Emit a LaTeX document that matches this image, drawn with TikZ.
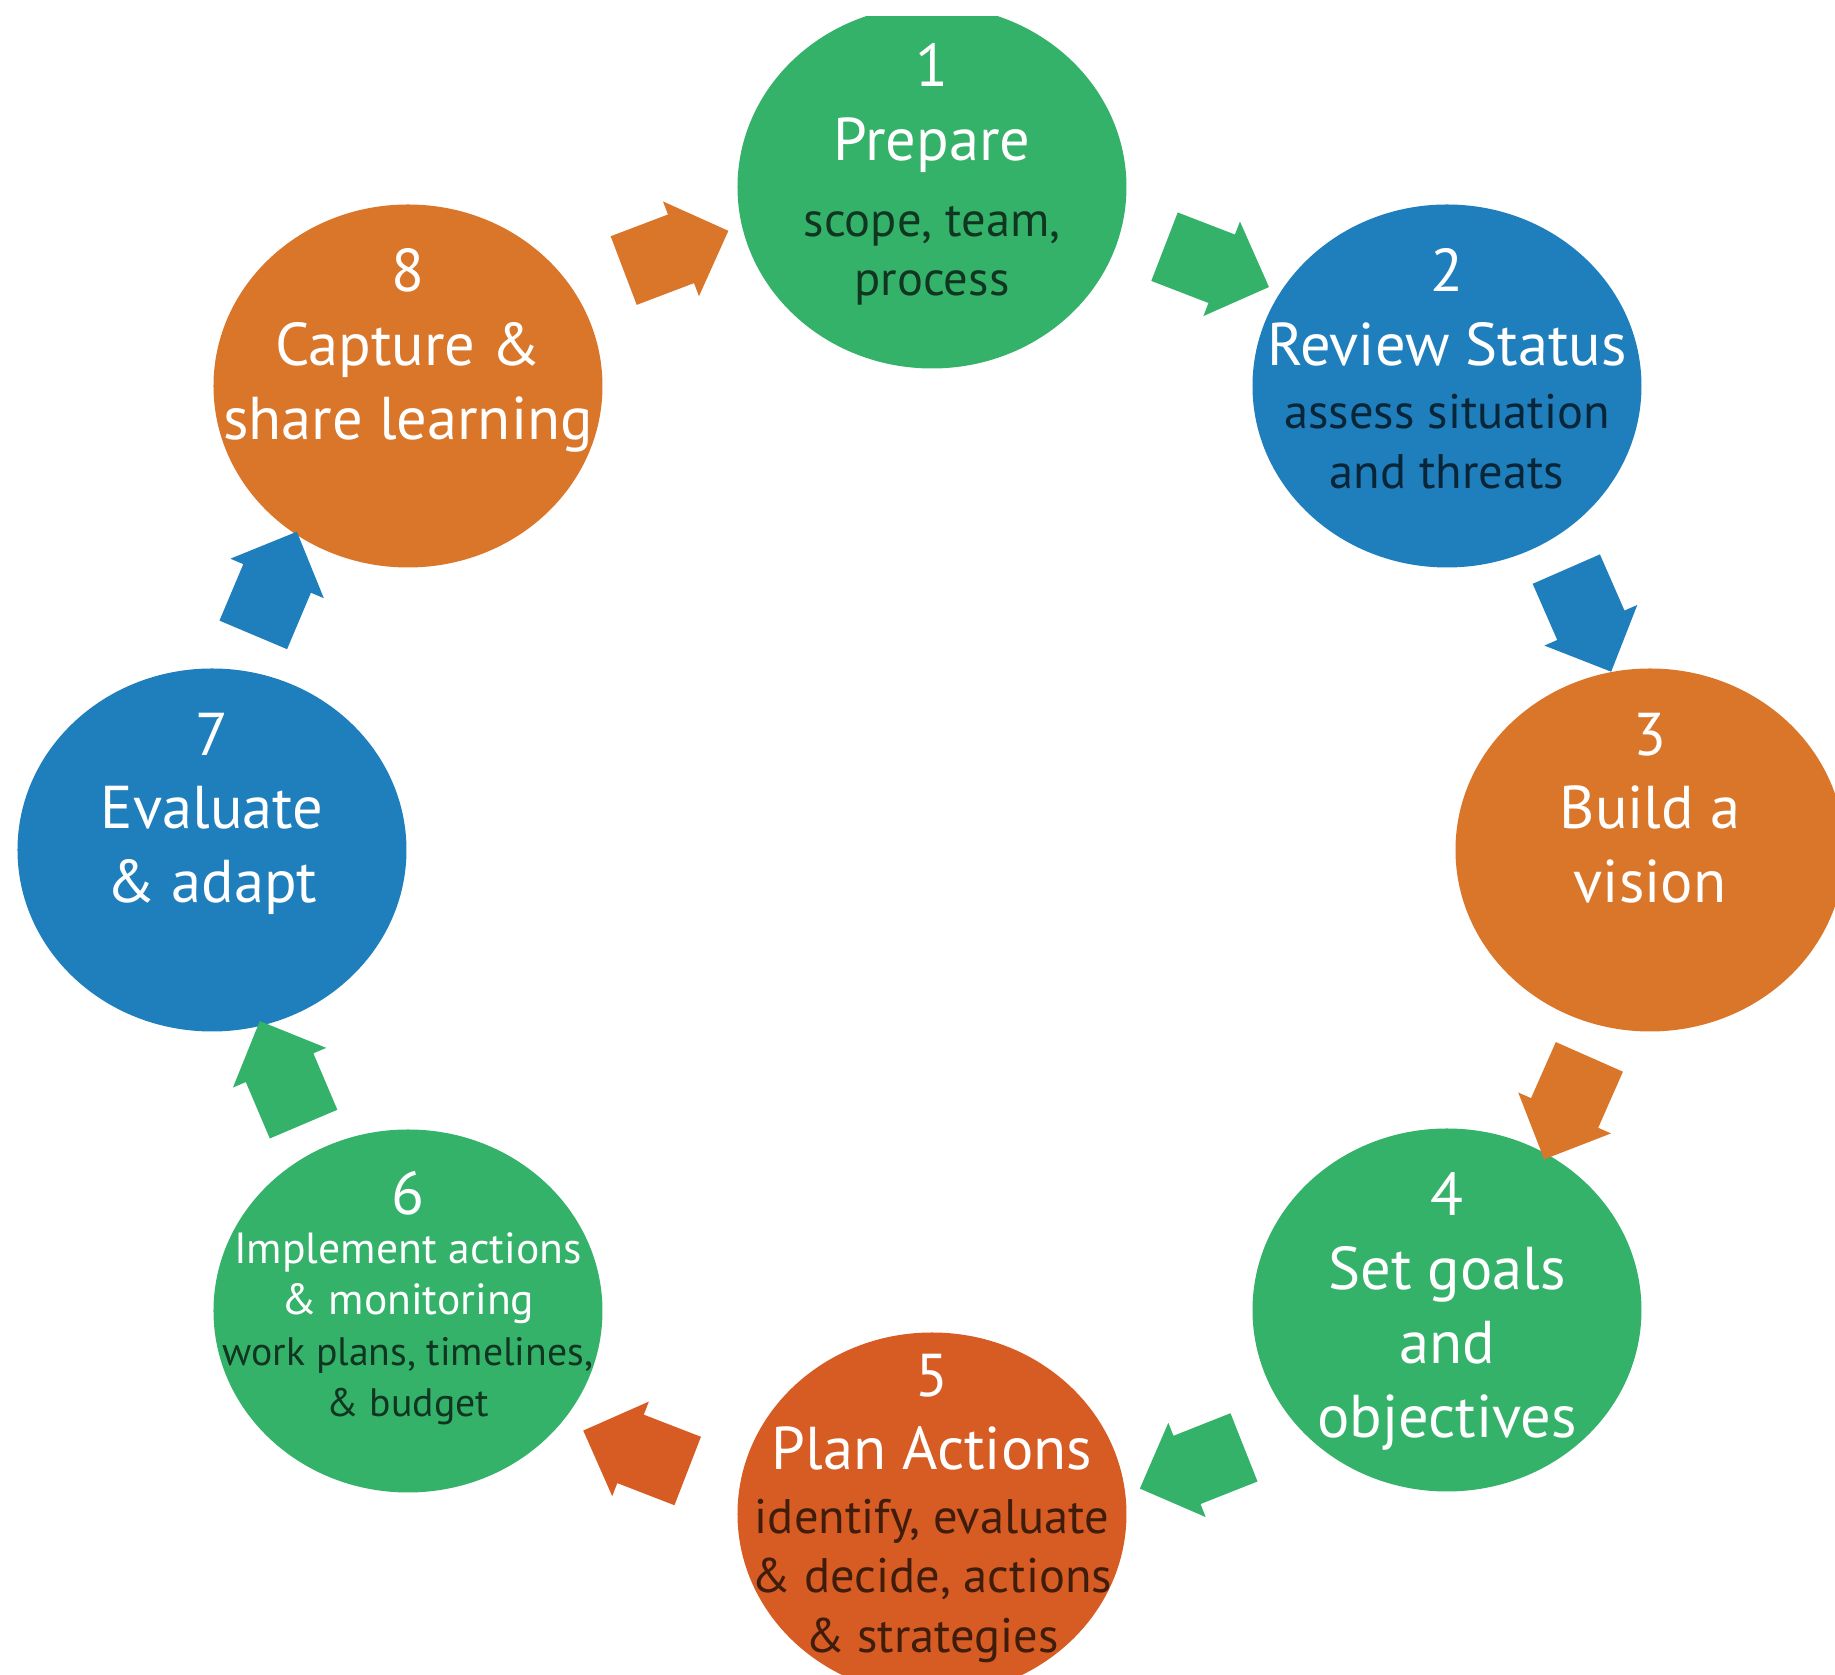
\documentclass[tikz,border=0pt]{standalone}
\usepackage{fontspec}
\setmainfont{PT Sans}
\usetikzlibrary{shapes.geometric,shapes.arrows}
\definecolor{stgreen}{HTML}{35B26A}
\definecolor{stblue}{HTML}{1F7EBC}
\definecolor{storange}{HTML}{D9762A}
\definecolor{stred}{HTML}{D65C24}
\colorlet{notecol}{black}
\newcommand{\stepnote}[1]{{\fontsize{13.8}{21}\selectfont\color{notecol}#1}}
\newcommand{\stepsmall}[1]{{\fontsize{12.4}{21}\selectfont #1}}
\newcommand{\stepsmallnote}[1]{{\fontsize{11.3}{21}\selectfont\color{notecol}#1}}
\tikzset{
  stage/.style={ellipse, minimum width=3.89cm, minimum height=3.63cm, inner sep=0pt},
  stagetext/.style={anchor=north, align=center, inner sep=0pt, text=white,
                    font=\fontsize{17.2}{21}\selectfont},
  flowarrow/.style={single arrow, minimum height=1.12cm, text height=0.36cm, text depth=0.36cm,
                    single arrow head extend=0.14cm, inner sep=0pt, sloped, allow upside down},
}

\begin{document}
\begin{tikzpicture}
    \useasboundingbox (-9.32,-8.25) rectangle (9.03,8.50);
    \clip (-9.32,-8.25) rectangle (9.03,8.33);
    % the eight stages round the cycle, clockwise from the top
    \foreach \i/\x/\y/\c/\d/\t in {
        1/0/6.63/stgreen/1.44/{1\\ Prepare\\[0.5pt] \stepnote{scope, team,}\\[-4pt] \stepnote{process}},
        2/5.15/4.64/stblue/1.38/{2\\ Review Status\\[-3pt] \stepnote{assess situation}\\[-4pt] \stepnote{and threats}},
        3/7.18/0/storange/1.38/{3\\ Build a\\ vision},
        4/5.15/-4.60/stgreen/1.38/{4\\ Set goals\\ and\\ objectives},
        5/0/-6.64/stred/1.61/{5\\ Plan Actions\\[-3pt] \stepnote{identify, evaluate}\\[-4pt] \stepnote{\& decide, actions}\\[-4pt] \stepnote{\& strategies}},
        6/-5.24/-4.61/stgreen/1.40/{6\\[-7pt] \stepsmall{Implement actions}\\[-6.5pt] \stepsmall{\& monitoring}\\[-6.5pt] \stepsmallnote{work plans, timelines,}\\[-6.5pt] \stepsmallnote{\& budget}},
        7/-7.20/0/stblue/1.38/{7\\ Evaluate\\ \& adapt},
        8/-5.24/4.64/storange/1.38/{8\\ Capture \&\\ share learning}}
      { \colorlet{notecol}{\c!30!black}
        \node[stage, fill=\c] (s\i) at (\x,\y) {};
        \node[stagetext] (t\i) at ([yshift=\d cm]s\i.center) {\t}; }
    % block arrows between neighbours, coloured like the stage they leave
    \foreach \i/\j/\c/\b in {8/1/storange/11, 1/2/stgreen/10, 2/3/stblue/14, 3/4/storange/11,
                             4/5/stgreen/19, 5/6/stred/17, 6/7/stgreen/9, 7/8/stblue/18}
      \path (s\i.center) to[bend left=\b] node[flowarrow, fill=\c] (a\i) {} (s\j.center);
\end{tikzpicture}
\end{document}
